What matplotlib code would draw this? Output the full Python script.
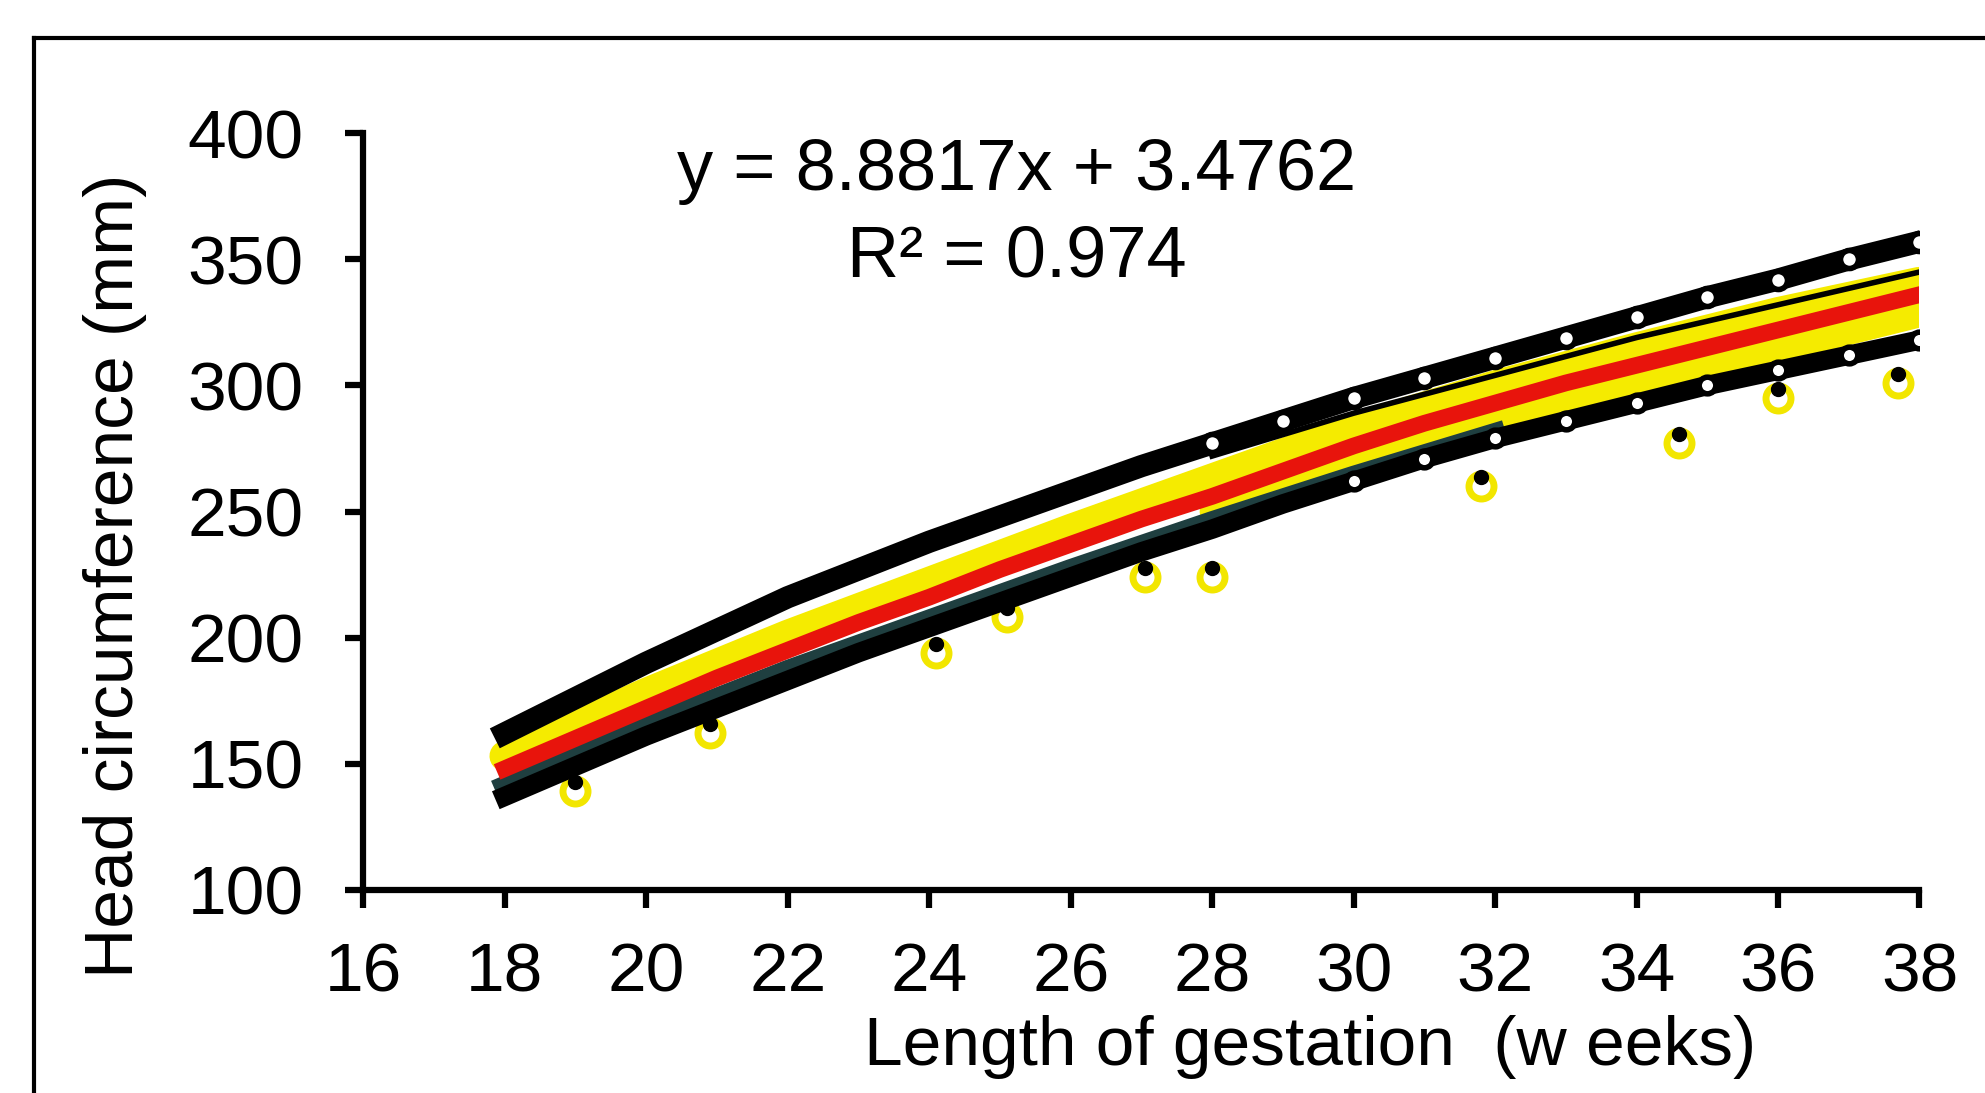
import numpy as np
import matplotlib.pyplot as plt
from matplotlib.lines import Line2D
import matplotlib.transforms as mtransforms

plt.rcParams['font.family'] = ['Liberation Sans', 'DejaVu Sans']

# weeks of gestation
weeks = [18, 19, 20, 21, 22, 23, 24, 25, 26, 27, 28, 29, 30, 31, 32, 33, 34, 35, 36, 37, 38]

# upper and lower reference curves (mm)
upper_curve = [162, 176, 190, 203, 216, 227, 238, 248, 258, 268, 277, 286, 295, 303, 311, 319, 327, 335, 342, 350, 357]
lower_curve = [137, 149, 161, 172, 183, 194, 204, 214, 224, 234, 243, 253, 262, 271, 279, 286, 293, 300, 306, 312, 318]
mean_curve = [148, 160, 172, 184, 195, 206, 216, 227, 237, 247, 256, 266, 276, 285, 293, 301, 308, 315, 322, 329, 336]

# yellow band above the mean
band_weeks = [18, 20, 22, 24, 26, 28, 30, 32, 34, 36, 38]
band_upper = [153, 178, 201, 222, 243, 263, 283, 300, 315, 329, 341]
# yellow band below the mean
band_low_weeks = [28, 30, 32, 34, 36, 38]
band_lower = [250, 268, 286, 301, 314, 328]

# dark teal curve
teal_weeks = [18, 20, 22, 24, 26, 28, 30, 32]
teal_curve = [141, 165, 187, 207, 227, 246, 264, 281]

# thin black curve near the top
thin_weeks = [28, 30, 32, 34, 36, 38]
thin_curve = [272, 289, 304, 319, 332, 345]

# scattered observations below the curves
obs_weeks = [19.0, 20.9, 24.1, 25.1, 27.05, 28.0, 31.8, 34.6, 36.0, 37.7]
obs_hc = [139, 162, 194, 208, 224, 224, 260, 277, 295, 301]

fig = plt.figure(figsize=(19.85, 10.93), dpi=100)
ax = fig.add_axes([0.183, 0.186, 0.784, 0.692])

ax.plot(band_weeks, band_upper, color='#f5eb00', lw=22, solid_capstyle='round', zorder=2)
ax.plot(band_low_weeks, band_lower, color='#f5eb00', lw=18, solid_capstyle='round', zorder=2)
ax.plot(teal_weeks, teal_curve, color='#1f3f40', lw=15, zorder=3)
ax.plot(weeks, mean_curve, color='#e8140c', lw=12, zorder=4)
ax.plot(thin_weeks, thin_curve, color='black', lw=4, zorder=4)
ax.plot(weeks, upper_curve, color='black', lw=16, marker='o', ms=13, mfc='white', mec='black',
        mew=4, markevery=slice(10, None), zorder=5)
ax.plot(weeks, lower_curve, color='black', lw=14, marker='o', ms=12, mfc='white', mec='black',
        mew=4, markevery=slice(12, None), zorder=5)

# observations: yellow ring with dark dot on top
ax.plot(obs_weeks, obs_hc, ls='none', marker='o', ms=18, mfc='white', mec='#f2e600', mew=5, zorder=3)
up = mtransforms.offset_copy(ax.transData, fig=fig, x=0, y=9, units='dots')
ax.plot(obs_weeks, obs_hc, ls='none', marker='o', ms=10, color='black', transform=up, zorder=3)

ax.set_xlim(16, 38)
ax.set_ylim(100, 400)
ax.set_xticks(range(16, 39, 2))
ax.set_yticks(range(100, 401, 50))
ax.spines['top'].set_visible(False)
ax.spines['right'].set_visible(False)
for s in ['left', 'bottom']:
    ax.spines[s].set_linewidth(4.5)
    ax.spines[s].set_capstyle('projecting')
ax.tick_params(axis='both', direction='out', length=13, width=4.5, labelsize=50)
ax.tick_params(axis='y', pad=30)
ax.tick_params(axis='x', pad=24)

fig.text(0.058, 0.473, 'Head circumference (mm)', fontsize=50, rotation=90, ha='center', va='center')
fig.text(0.66, 0.042, 'Length of gestation  (w eeks)', fontsize=50, ha='center', va='center')

ax.text(0.42, 0.95, 'y = 8.8817x + 3.4762', transform=ax.transAxes, fontsize=52, ha='center', va='center')
ax.text(0.42, 0.835, 'R\u00b2 = 0.974', transform=ax.transAxes, fontsize=52, ha='center', va='center')

# outer frame of the scanned figure
fig.add_artist(Line2D([0.017, 1.0], [0.965, 0.965], color='black', lw=3, transform=fig.transFigure))
fig.add_artist(Line2D([0.017, 0.017], [0.0, 0.965], color='black', lw=3, transform=fig.transFigure))

fig.savefig('out.png', dpi=100, facecolor='white')
